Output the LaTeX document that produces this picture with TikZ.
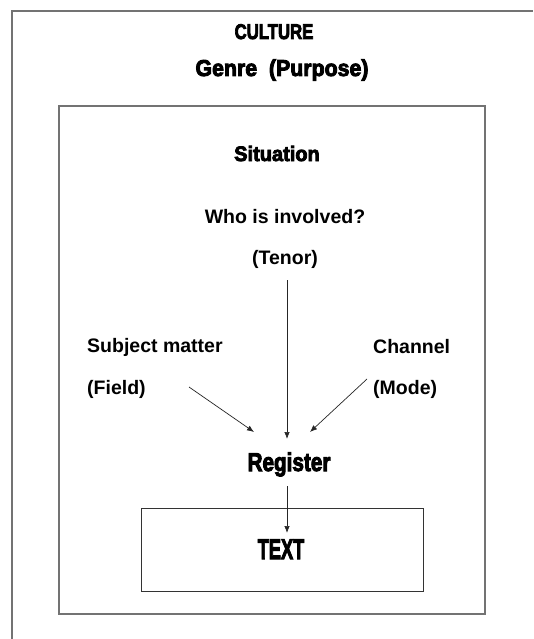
\documentclass[tikz,border=0pt]{standalone}
\usepackage{fontspec}
\usepackage{graphicx}
\setmainfont{Liberation Sans}
\newfontfamily\heavy[FakeBold=4]{Liberation Sans Bold}
\newcommand\hdr[4]{\scalebox{#1}[#2]{\heavy\fontsize{#3}{#3}\selectfont #4}}
\usetikzlibrary{arrows.meta}
\tikzset{
  frame/.style={draw=black!55, line width=1.3pt},
  textbox/.style={draw=black!80, line width=1pt},
  title/.style={inner sep=0pt, anchor=base},
  label/.style={font=\bfseries\fontsize{19.5}{21}\selectfont, inner sep=0pt},
  arr/.style={draw=black!85, line width=0.7pt, -{Latex[length=7pt,width=5.5pt]}}
}
\begin{document}
\begin{tikzpicture}[x=1pt,y=-1pt]
\useasboundingbox (0,0) rectangle (533,639);
% outer frame (cropped on right and bottom)
\draw[frame] (12,639) -- (12,11) -- (533,11);
% inner frame
\draw[frame] (59,106) rectangle (485,614);
% TEXT box
\draw[textbox] (141,508) rectangle (423,591);

\node[title] (culture) at (274,39) {\hdr{0.93}{1.18}{18}{CULTURE}};
\node[title] (genre) at (282,76) {\hdr{1.04}{1.12}{20.5}{Genre\ \ (Purpose)}};
\node[title] (situation) at (277,161) {\hdr{0.93}{0.97}{21.5}{Situation}};
\node[label, anchor=base] (who) at (285,223) {Who is involved?};
\node[label, anchor=base] (tenor) at (285,264) {(Tenor)};
\node[label, anchor=base west] (subject) at (87,352) {Subject matter};
\node[label, anchor=base west] (field) at (87,394) {(Field)};
\node[label, anchor=base west] (channel) at (373,353) {Channel};
\node[label, anchor=base west] (mode) at (373,394) {(Mode)};
\node[title] (register) at (289,471) {\hdr{0.9}{1.12}{23}{Register}};
\node[title] (text) at (281,559) {\hdr{0.7}{1.1}{26}{TEXT}};

\coordinate (tenorS) at (287,280);
\coordinate (tenorE) at (287,439);
\coordinate (fieldS) at (189,387);
\coordinate (fieldE) at (254,432);
\coordinate (modeS) at (367,379);
\coordinate (modeE) at (310,432);
\coordinate (regS) at (287,486);
\coordinate (regE) at (287,533);

\draw[arr] (tenorS) -- (tenorE);
\draw[arr] (fieldS) -- (fieldE);
\draw[arr] (modeS) -- (modeE);
\draw[arr] (regS) -- (regE);
\end{tikzpicture}
\end{document}
